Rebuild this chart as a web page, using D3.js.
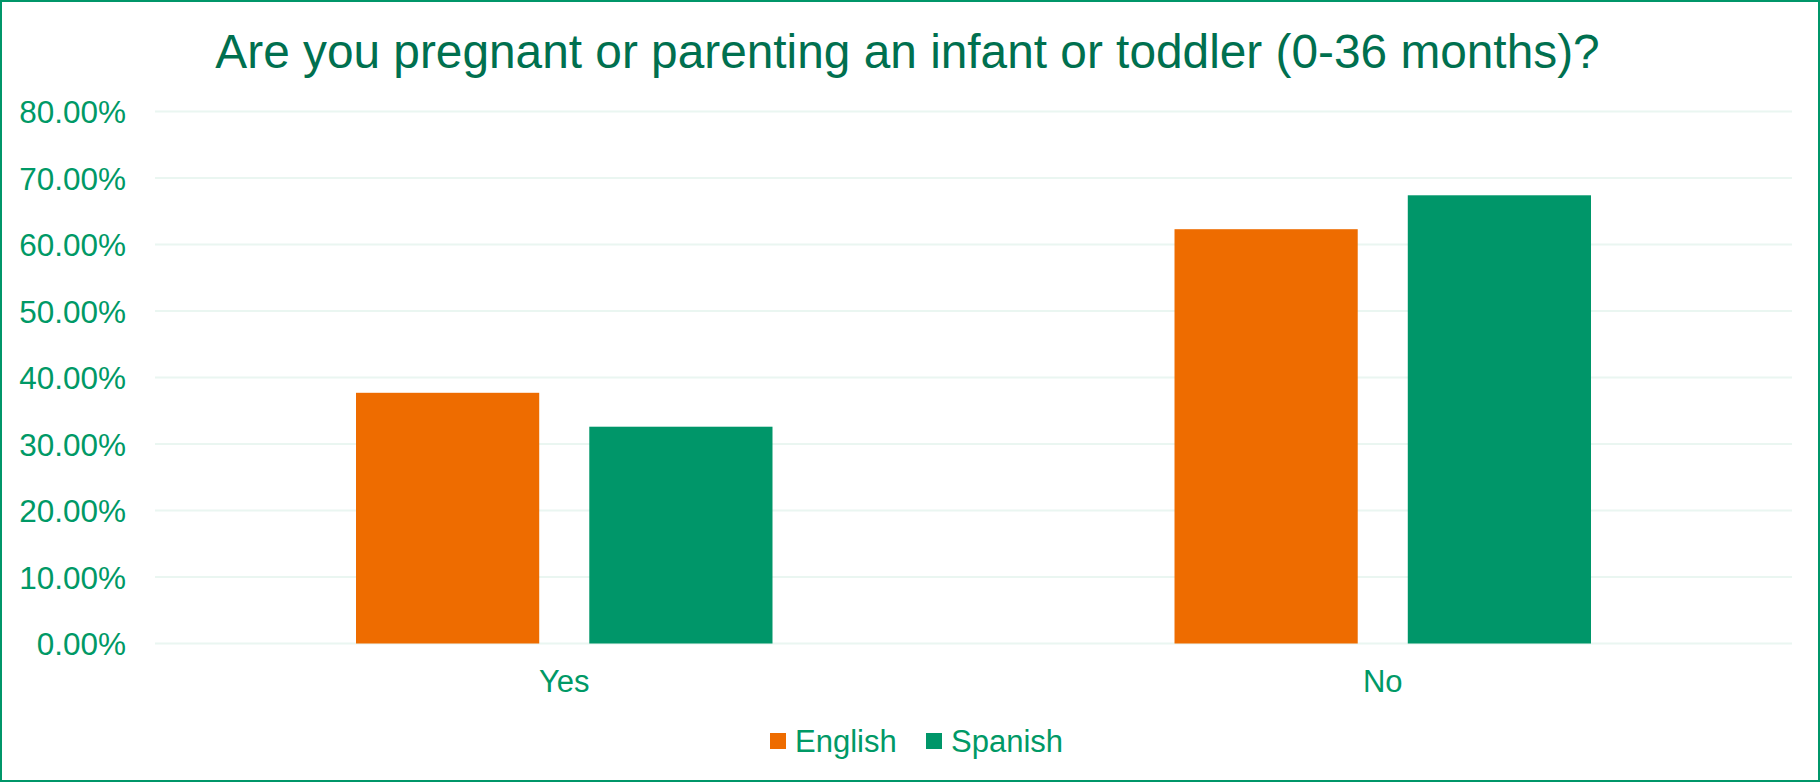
<html>
<head>
<script src="https://d3js.org/d3.v7.min.js"></script>
<style>
  body { margin: 0; background: white; }
  text { font-family: "Liberation Sans", Arial, sans-serif; }
</style>
</head>
<body>
<svg width="1820" height="782"></svg>
<script>
  // chart data
  var categories = ["Yes", "No"];
  var seriesNames = ["English", "Spanish"];
  var english = [0.377, 0.623];
  var spanish = [0.326, 0.674];
  var yTicks = [0, 0.1, 0.2, 0.3, 0.4, 0.5, 0.6, 0.7, 0.8];
  var title = "Are you pregnant or parenting an infant or toddler (0-36 months)?";

  var width = 1820, height = 782;
  var plotLeft = 155, plotRight = 1792, plotTop = 111.5, plotBottom = 643.5;
  var colors = d3.scaleOrdinal().domain(seriesNames).range(["#EE6C00", "#009669"]);
  var textColor = "#009966";

  var svg = d3.select("svg");

  // outer border
  svg.append("rect")
    .attr("x", 1).attr("y", 1).attr("width", width - 2).attr("height", height - 2)
    .attr("fill", "white").attr("stroke", "#009669").attr("stroke-width", 2);

  var y = d3.scaleLinear().domain([0, 0.8]).range([plotBottom, plotTop]);
  var x0 = d3.scaleBand().domain(categories).range([plotLeft, plotRight]);
  var groupWidth = x0.bandwidth() * 417 / 819.5;
  var x1 = d3.scaleBand().domain(seriesNames).range([0, groupWidth]).paddingInner(0.2146);

  // gridlines
  svg.append("g")
    .selectAll("line").data(yTicks).enter()
    .append("line")
    .attr("x1", plotLeft).attr("x2", plotRight)
    .attr("y1", d => y(d)).attr("y2", d => y(d))
    .attr("stroke", "#EAF6F1").attr("stroke-width", 2);

  // y axis labels
  var yAxis = svg.append("g").attr("transform", "translate(126,0)")
    .call(d3.axisLeft(y).tickValues(yTicks).tickFormat(d3.format(".2%")).tickSize(0).tickPadding(0));
  yAxis.select(".domain").remove();
  yAxis.selectAll("text")
    .attr("fill", textColor).attr("dy", "0.36em")
    .style("font-size", "31.5px").style("font-family", "'Liberation Sans', Arial, sans-serif");

  // bars
  var rows = categories.map((c, i) => ({cat: c, values: [english[i], spanish[i]]}));
  svg.append("g")
    .selectAll("g").data(rows).enter()
    .append("g")
    .attr("transform", d => "translate(" + (x0(d.cat) + (x0.bandwidth() - groupWidth) / 2) + ",0)")
    .selectAll("rect").data(d => d.values.map((v, j) => ({name: seriesNames[j], value: v}))).enter()
    .append("rect")
    .attr("x", d => x1(d.name))
    .attr("width", x1.bandwidth())
    .attr("y", d => y(d.value))
    .attr("height", d => plotBottom - y(d.value))
    .attr("fill", d => colors(d.name));

  // x axis labels
  var xAxis = svg.append("g").attr("transform", "translate(0," + plotBottom + ")")
    .call(d3.axisBottom(x0).tickSize(0).tickPadding(0));
  xAxis.select(".domain").remove();
  xAxis.selectAll("text")
    .attr("y", 48).attr("dy", 0)
    .attr("fill", textColor)
    .style("font-size", "31px").style("font-family", "'Liberation Sans', Arial, sans-serif");

  // title
  svg.append("text")
    .attr("x", 907.5).attr("y", 68)
    .attr("text-anchor", "middle")
    .attr("fill", "#00704F")
    .style("font-size", "47.8px")
    .text(title);

  // legend
  var legendX = [770, 926];
  var legend = svg.append("g").selectAll("g").data(seriesNames).enter()
    .append("g")
    .attr("transform", (d, i) => "translate(" + legendX[i] + ",733)");
  legend.append("rect")
    .attr("width", 16).attr("height", 16)
    .attr("fill", d => colors(d));
  legend.append("text")
    .attr("x", 25).attr("y", 19)
    .attr("fill", textColor)
    .style("font-size", "31px")
    .text(d => d);
</script>
</body>
</html>
